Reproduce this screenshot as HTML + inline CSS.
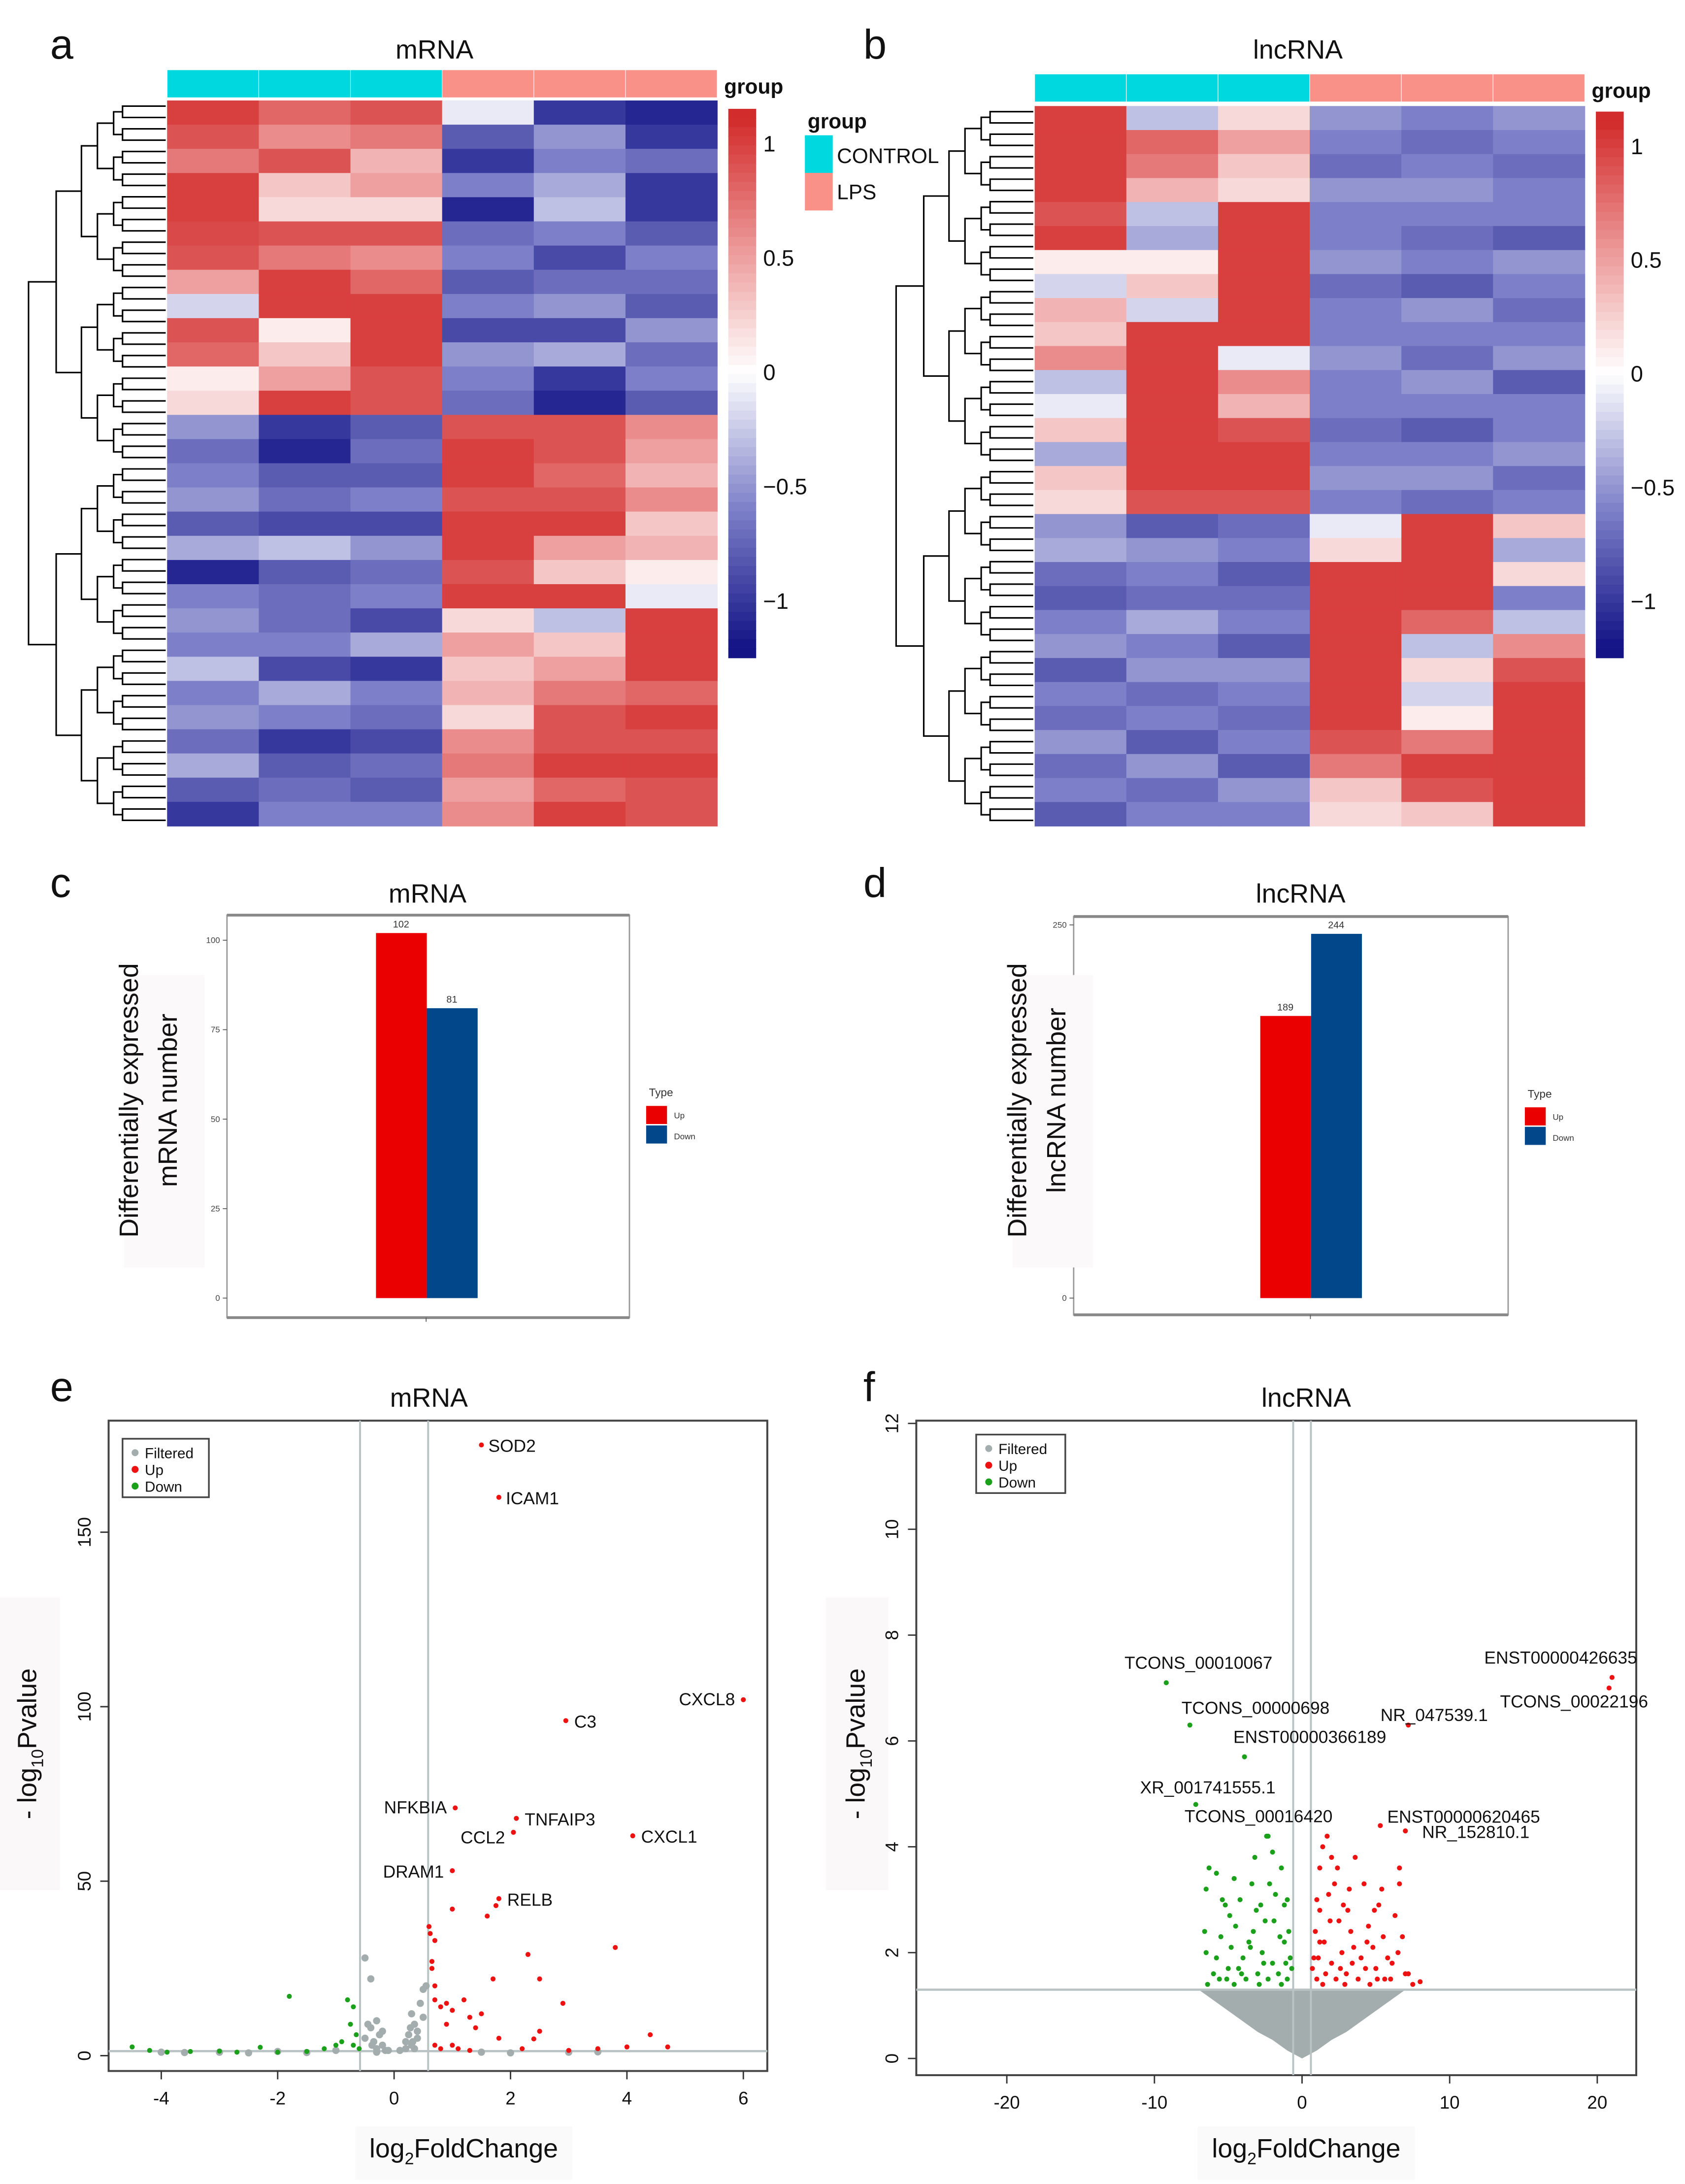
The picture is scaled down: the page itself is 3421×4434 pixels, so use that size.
<!DOCTYPE html>
<html><head><meta charset="utf-8"><style>
html,body{margin:0;padding:0;background:#fff;}
svg{display:block;font-family:"Liberation Sans",sans-serif;}
</style></head><body>
<svg id="fig" xmlns="http://www.w3.org/2000/svg" width="3421" height="4434" viewBox="0 0 1210 1568">
<rect x="0" y="0" width="1210" height="1568" fill="#fff"/>
<g id="root"></g>
</svg>
<script>
// ---------- DATA ----------
const groups = ["CONTROL","CONTROL","CONTROL","LPS","LPS","LPS"];
const mrnaC1 = [1,.9,.7,1,1,.95,.9,.5,-.2,.9,.8,.1,.2,-.5,-.7,-.6,-.5,-.8,-.4,-1.1,-.6,-.5,-.6,-.3,-.6,-.5,-.7,-.4,-.8,-1];
const mrnaC2 = [.8,.6,.9,.3,.2,.9,.7,1,1,.1,.3,.5,1,-1,-1.1,-.8,-.7,-.9,-.3,-.8,-.7,-.7,-.6,-.9,-.4,-.6,-1,-.8,-.7,-.6];
const mrnaC3 = [.9,.7,.4,.5,.2,.9,.6,.8,1,1,1,.9,.9,-.8,-.7,-.8,-.6,-.9,-.5,-.7,-.6,-.9,-.4,-1,-.6,-.7,-.9,-.7,-.8,-.6];
const mrnaC4 = [-.1,-.8,-1,-.6,-1.1,-.7,-.6,-.8,-.6,-.9,-.5,-.6,-.7,.9,1,1,.9,1,1,.9,1,.2,.5,.3,.4,.2,.6,.7,.5,.6];
const mrnaC5 = [-1,-.5,-.6,-.4,-.3,-.6,-.9,-.7,-.5,-.9,-.4,-1,-1.1,.9,.9,.8,.9,1,.5,.3,1,-.3,.3,.5,.7,.9,.9,1,.8,1];
const mrnaC6 = [-1.1,-1,-.7,-1,-1,-.8,-.6,-.7,-.8,-.5,-.7,-.6,-.8,.6,.5,.4,.6,.3,.4,.1,-.1,1,1,1,.8,1,.9,1,.9,.9];
const lncC1 = [1,1,1,1,.9,1,.1,-.2,.4,.3,.6,-.3,-.1,.3,-.4,.3,.2,-.5,-.4,-.7,-.8,-.6,-.5,-.8,-.6,-.7,-.5,-.7,-.6,-.8];
const lncC2 = [-.3,.8,.7,.4,-.3,-.4,.1,.3,-.2,1,1,1,1,1,1,1,.9,-.8,-.5,-.6,-.7,-.4,-.6,-.5,-.7,-.6,-.8,-.5,-.7,-.6];
const lncC3 = [.2,.5,.3,.2,1,1,1,1,1,1,-.1,.6,.4,.9,1,1,.9,-.7,-.6,-.8,-.7,-.6,-.8,-.5,-.6,-.7,-.6,-.8,-.5,-.6];
const lncC4 = [-.5,-.6,-.7,-.5,-.6,-.6,-.5,-.7,-.6,-.6,-.5,-.6,-.6,-.7,-.6,-.5,-.6,-.1,.2,1,1,1,1,1,1,1,.9,.7,.3,.2];
const lncC5 = [-.6,-.7,-.6,-.5,-.6,-.7,-.6,-.8,-.5,-.6,-.7,-.5,-.6,-.8,-.6,-.5,-.7,1,1,1,1,.8,-.3,.2,-.2,.1,.7,1,.9,.3];
const lncC6 = [-.5,-.6,-.7,-.6,-.6,-.8,-.5,-.6,-.7,-.6,-.5,-.8,-.6,-.6,-.5,-.7,-.6,.3,-.4,.2,-.6,-.3,.6,.9,1,1,1,1,1,1];
const cbTicks = [1,0.5,0,-0.5,-1];
const cbLabels = ["1","0.5","0","\u22120.5","\u22121"];

const barTypes = ["Up","Down"];
const mrnaCounts = [102,81];
const lncCounts = [189,244];
const mrnaBarTicks = [0,25,50,75,100];
const lncBarTicks = [0,50,100,150,200,250];

const eXTicks = [-4,-2,0,2,4,6];
const eYTicks = [0,50,100,150];
const eLabNames = ["SOD2","ICAM1","CXCL8","C3","NFKBIA","TNFAIP3","CCL2","CXCL1","DRAM1","RELB"];
const eLabX = [1.5,1.8,6.0,2.95,1.05,2.1,2.05,4.1,1.0,1.8];
const eLabY = [175,160,102,96,71,68,64,63,53,45];
const eRedX = [0.6,0.62,0.65,0.7,0.65,0.7,0.7,0.8,0.9,1,1.2,1.3,1.5,1,1.6,2.3,2.5,1.7,2.9,3.8,2.5,1.8,4.4,0.7,0.8,1,1.1,1.3,2.2,3,3.5,4,4.7,2.4,0.9,1.4,1.75];
const eRedY = [37,35,27,33,25,20,16,14,15,13,16,11,12,42,40,29,22,22,15,31,7,5,6,3,2,3,2,1.5,2,1.5,2,2.5,2.5,4.8,9,8,43];
const eGreenX = [-4.5,-4.2,-3.9,-3.5,-3,-2.7,-2.3,-2,-1.8,-1.5,-1.2,-1,-0.9,-0.8,-0.7,-0.75,-0.65,-0.7,-0.6];
const eGreenY = [2.5,1.5,1,1.2,1.3,1,2.4,1,17,1.2,2,3,4,16,14,9,6,3,2];
const eGreyX = [-0.3,-0.35,-0.25,-0.4,-0.2,-0.5,-0.45,-0.3,-0.15,0.3,0.25,0.35,0.2,0.4,0.5,0.45,0.5,0.55,-0.5,-0.4,-0.1,0.1,0.3,0.2,-3,-2.5,-2,-1.5,-1,1.5,2,3,3.5,-3.6,-4,0.4,0.35,-0.3,-0.2,0.28,0.32,-0.38];
const eGreyY = [2,4,6,8,3,5,9,10,1.5,3,6,9,4,7,11,15,19,20,28,22,1.5,1.5,12,2,1,0.8,1.2,0.9,1.5,1,0.8,1,1.1,0.9,1,5,2,1,7,8,4,3];

const fXTicks = [-20,-10,0,10,20];
const fYTicks = [0,2,4,6,8,10,12];
const fLabNames = ["TCONS_00010067","TCONS_00000698","ENST00000366189","XR_001741555.1","TCONS_00016420","ENST00000426635","TCONS_00022196","NR_047539.1","ENST00000620465","NR_152810.1"];
const fLabX = [-9.2,-7.6,-3.9,-7.2,-2.3,21,20.8,7.2,5.3,7.0];
const fLabY = [7.1,6.3,5.7,4.8,4.2,7.2,7.0,6.3,4.4,4.3];
const fUpX = [1,1.5,2,2.5,3,3.5,4,4.5,5,5.5,6,6.5,7,7.5,8,1.2,1.8,2.2,2.8,3.2,4.2,5.2,6.3,6.6,6.6,2,1.2,1.4,2.4,3.6,1.7,1.2,1.6,2.3,2.7,3.3,3.8,4.3,4.8,5.8,6.8,0.8,0.9,1,1.4,2.9,4.6,5.6,3.1,4.9,5.4,1.9,2.6,3.4,4.4,5.1,6.1,7.2,0.7,1.1];
const fUpY = [1.5,2.2,1.8,2.6,1.6,2.1,1.9,2.5,1.7,2.3,1.5,2,1.6,1.4,1.45,2.8,3.1,3.3,2.9,3.2,3.3,2.9,2.7,3.3,3.6,3.8,3.6,4,3.6,3.8,4.2,2.2,1.6,1.5,2,2.4,1.5,1.7,2.1,1.9,2.3,1.9,2.4,3,1.4,1.4,1.4,1.5,2.8,2.8,3.2,2.6,1.7,1.8,2.2,1.5,1.8,1.6,1.7,1.9];
const fDownX = [-1,-1.5,-2,-2.5,-3,-3.5,-4,-4.5,-5,-5.5,-6,-6.5,-1.2,-1.8,-2.2,-2.8,-3.4,-4.2,-5.2,-5.8,-6.3,-6.5,-2.4,-3.2,-1.4,-2,-4.6,-1.2,-1.6,-2.3,-2.7,-3.3,-3.8,-4.3,-4.8,-5.8,-6.6,-0.8,-0.9,-1,-1.4,-2.9,-4.6,-5.6,-6.4,-3.1,-4.9,-5.4,-1.9,-2.6,-3.6,-4.1,-5.1,-0.7,-1.1];
const fDownY = [1.5,2.3,1.8,2.6,1.6,2.1,1.9,2.5,1.7,2.3,1.6,2,2.9,3.1,3.3,2.9,3.3,3.0,2.9,3.5,3.6,3.2,4.2,3.8,3.6,3.9,3.4,2.2,1.6,1.5,2,2.4,1.5,1.7,2.1,1.9,2.4,1.9,2.4,3,1.4,1.4,1.4,1.5,1.4,2.8,2.7,3.0,2.6,1.8,2.2,1.6,1.5,1.7,1.8];
const fGreyX = [-7,-6,-5,-4,-3,-2,-1,0,1,2,3,4,5,6,7];
const fGreyY = [1.3,1.1,0.9,0.7,0.5,0.35,0.15,0,0.15,0.35,0.5,0.7,0.9,1.1,1.3];

// ---------- HELPERS ----------
const NS="http://www.w3.org/2000/svg";
const root=document.getElementById('root');
function mk(tag,attrs,parent,text){const e=document.createElementNS(NS,tag);for(const k in attrs)e.setAttribute(k,attrs[k]);if(text!==undefined)e.textContent=text;(parent||root).appendChild(e);return e;}
function grp(name){const g=mk('g',{});


return g;}
function lerp(a,b,t){return a+(b-a)*t;}
function mix(c1,c2,t){return 'rgb('+[0,1,2].map(i=>Math.round(lerp(c1[i],c2[i],t))).join(',')+')';}
function heatColor(v){
  if(v>=0){const t=Math.min(v/1.1,1);
    if(t<0.5)return mix([255,255,255],[236,150,150],t/0.5);
    return mix([236,150,150],[211,44,44],(t-0.5)/0.5);}
  const t=Math.min(-v/1.2,1);
  if(t<0.5)return mix([255,255,255],[125,128,200],t/0.5);
  return mix([125,128,200],[20,20,135],(t-0.5)/0.5);
}
function label(g,x,y,txt,size,opts){const o=Object.assign({x:x,y:y,'font-size':size,fill:'#111'},opts||{});return mk('text',o,g,txt);}

// ---------- HEATMAPS ----------
function dendro(g,xL,xR,yT,yB,n){
  const rowH=(yB-yT)/n;
  function build(lo,hi,depth){
    if(hi-lo===1)return {y:yT+(lo+0.5)*rowH,x:xR};
    const mid=Math.floor((lo+hi)/2);
    const a=build(lo,mid,depth+1),b=build(mid,hi,depth+1);
    const x=xR-(xR-xL)*Math.pow(0.78,depth)-((hi-lo)%3)*1.5;
    mk('path',{d:`M${a.x},${a.y}H${x}V${b.y}H${b.x}`,fill:'none',stroke:'#000','stroke-width':1.1},g);
    return {x:x,y:(a.y+b.y)/2};
  }
  build(0,n,0);
}
function heatmap(name,cols,x0,x1,yT,yB,barY,barH,cbX,cbT,cbB,title,titleX,letter,letterX,dendL){
  const g=grp(name);
  const n=cols[0].length, cw=(x1-x0)/cols.length, rh=(yB-yT)/n;
  cols.forEach((col,ci)=>{col.forEach((v,ri)=>{
    const r=mk('rect',{x:x0+ci*cw,y:yT+ri*rh,width:cw+0.3,height:rh+0.3,fill:heatColor(v)},g);
    
    
  });});
  groups.forEach((gr,ci)=>{
    const r=mk('rect',{x:x0+ci*cw,y:barY,width:cw,height:barH,fill:gr==='CONTROL'?'#00d8df':'#fa9189',stroke:'#fff','stroke-width':0.4},g);
    
    
  });
  label(g,x1+5,barY+barH-3,'group',15,{'font-weight':'bold'});
  dendro(g,dendL,x0-1,yT,yB,64);
  const steps=60;const vmax=1.15,vmin=-1.25;
  for(let i=0;i<steps;i++){const v=vmax-(vmax-vmin)*(i+0.5)/steps;
    mk('rect',{x:cbX,y:cbT+(cbB-cbT)*i/steps,width:20,height:(cbB-cbT)/steps+0.5,fill:heatColor(v)},g);}
  cbTicks.forEach((t,i)=>{const y=cbT+(vmax-t)/(vmax-vmin)*(cbB-cbT);
    label(g,cbX+25,y+6,cbLabels[i],16);});
  const tt=label(g,titleX,42,title,19,{'text-anchor':'middle'});
  
  
  const lt=label(g,letterX,42,letter,30);
  
  
}
heatmap('heatmap-mrna',[mrnaC1,mrnaC2,mrnaC3,mrnaC4,mrnaC5,mrnaC6],120,515,72,593,50,20,523,78,472,'mRNA',312,'a',36,22);
heatmap('heatmap-lncrna',[lncC1,lncC2,lncC3,lncC4,lncC5,lncC6],743,1138,76,593,53,20,1146,80,472,'lncRNA',932,'b',620,645);
(function(){const g=grp('group-legend');
  label(g,580,92,'group',15,{'font-weight':'bold'});
  mk('rect',{x:578,y:97,width:20,height:27,fill:'#00d8df'},g);
  mk('rect',{x:578,y:124,width:20,height:27,fill:'#fa9189'},g);
  label(g,601,117,'CONTROL',15);
  label(g,601,143,'LPS',15);
})();

// ---------- BAR CHARTS ----------
function barChart(name,counts,ticks,maxV,box,y0,yMaxPix,xBar,title,titleX,letter,letterX,ylab2,ylabX){
  const g=grp(name);
  mk('rect',{x:box[0],y:box[1],width:box[2]-box[0],height:box[3]-box[1],fill:'#fff',stroke:'#999','stroke-width':1},g);
  mk('line',{x1:box[0],y1:box[1],x2:box[2],y2:box[1],stroke:'#888','stroke-width':2},g);
  mk('line',{x1:box[0],y1:box[3],x2:box[2],y2:box[3],stroke:'#888','stroke-width':2},g);
  const ys=v=>y0-(v/maxV)*(y0-yMaxPix);
  ticks.forEach(t=>{mk('line',{x1:box[0]-3,x2:box[0],y1:ys(t),y2:ys(t),stroke:'#555','stroke-width':0.6},g);
    label(g,box[0]-5,ys(t)+2,String(t),6,{'text-anchor':'end',fill:'#444'});});
  mk('line',{x1:xBar+36,x2:xBar+36,y1:box[3],y2:box[3]+3,stroke:'#555','stroke-width':0.6},g);
  const cols=['#ea0000','#024789'];
  counts.forEach((c,i)=>{
    const r=mk('rect',{x:xBar+i*36.5,y:ys(c),width:36.5,height:y0-ys(c),fill:cols[i]},g);
    
    
    label(g,xBar+i*36.5+18,ys(c)-4,String(c),7,{'text-anchor':'middle',fill:'#333'});
  });
  const lx=box[2]+12;
  label(g,lx+2,box[1]+130,'Type',8,{fill:'#333'});
  mk('rect',{x:lx,y:box[1]+137,width:15,height:13,fill:cols[0]},g);
  mk('rect',{x:lx,y:box[1]+151,width:15,height:13,fill:cols[1]},g);
  label(g,lx+20,box[1]+146,'Up',6,{fill:'#333'});
  label(g,lx+20,box[1]+161,'Down',6,{fill:'#333'});
  label(g,titleX,648,title,19,{'text-anchor':'middle'});
  label(g,letterX,644,letter,30);
  mk('rect',{x:ylabX-10,y:700,width:58,height:210,fill:'#fcf9fa'},g);
  const cy=790;
  label(g,0,0,'Differentially expressed',19,{transform:`translate(${ylabX},${cy}) rotate(-90)`,'text-anchor':'middle'});
  label(g,0,0,ylab2,19,{transform:`translate(${ylabX+28},${cy}) rotate(-90)`,'text-anchor':'middle'});
}
barChart('bar-chart-mrna',mrnaCounts,mrnaBarTicks,100,[163,657,452,946],932,675,270,'mRNA',307,'c',36,'mRNA number',99);
barChart('bar-chart-lncrna',lncCounts,lncBarTicks,250,[771,658,1083,944],932,664,905,'lncRNA',934,'d',620,'lncRNA number',737);

// ---------- VOLCANO ----------
function volcano(name,cfg){
  const g=grp(name);
  mk('rect',{x:cfg.ylabX-22,y:1147,width:45,height:210,fill:'#fbf8f9'},g);
  const xs=v=>cfg.px0+(v-cfg.vx0)*cfg.kx, ys=v=>cfg.py0-v*cfg.ky;
  const b=cfg.box;
  mk('rect',{x:b[0],y:b[1],width:b[2]-b[0],height:b[3]-b[1],fill:'#fff',stroke:'#444','stroke-width':1.4},g);
  if(cfg.greyPoly){let d='';cfg.greyPoly[0].forEach((x,i)=>{d+=(i?'L':'M')+xs(x)+','+ys(cfg.greyPoly[1][i]);});
    mk('path',{d:d+'Z',fill:'#a4adad'},g);}
  cfg.vlines.forEach(v=>mk('line',{x1:xs(v),x2:xs(v),y1:b[1],y2:b[3],stroke:'#b9c3c3','stroke-width':1.4},g));
  mk('line',{x1:b[0],x2:b[2],y1:ys(1.3),y2:ys(1.3),stroke:'#b9c3c3','stroke-width':1.6},g);
  function pts(X,Y,col,r,nm){X.forEach((x,i)=>{const c=mk('circle',{cx:xs(x),cy:ys(Y[i]),r:r,fill:col},g);
    
    });}
  if(cfg.grey)pts(cfg.grey[0],cfg.grey[1],'#a4adad',2.6,'point-filtered');
  pts(cfg.green[0],cfg.green[1],'#1aa01a',1.8,'point-down');
  pts(cfg.red[0],cfg.red[1],'#ee1111',1.8,'point-up');
  cfg.labN.forEach((n,i)=>{const x=cfg.labX[i],y=cfg.labY[i];
    mk('circle',{cx:xs(x),cy:ys(y),r:1.8,fill:x>0?'#ee1111':'#1aa01a'},g);
    const o=cfg.labOff[i];
    label(g,xs(x)+o[0],ys(y)+o[1],n,12.5,{'text-anchor':o[2]});});
  cfg.xt.forEach(t=>{mk('line',{x1:xs(t),x2:xs(t),y1:b[3],y2:b[3]+6,stroke:'#333'},g);
    label(g,xs(t),b[3]+24,String(t),13,{'text-anchor':'middle'});});
  cfg.yt.forEach(t=>{mk('line',{x1:b[0]-6,x2:b[0],y1:ys(t),y2:ys(t),stroke:'#333'},g);
    label(g,0,0,String(t),13,{transform:`translate(${b[0]-13},${ys(t)}) rotate(-90)`,'text-anchor':'middle'});});
  const L=cfg.leg;
  mk('rect',{x:L[0],y:L[1],width:L[2],height:42,fill:'#fff',stroke:'#444','stroke-width':1.2},g);
  [['Filtered','#a4adad'],['Up','#ee1111'],['Down','#1aa01a']].forEach((e,i)=>{
    mk('circle',{cx:L[0]+9,cy:L[1]+10+i*12,r:2.5,fill:e[1]},g);
    label(g,L[0]+16,L[1]+14+i*12,e[0],10.5);});
  label(g,cfg.titleX,1010,cfg.title,19,{'text-anchor':'middle'});
  label(g,cfg.letterX,1006,cfg.letter,30);
  mk('rect',{x:cfg.xlabX-78,y:1527,width:156,height:38,fill:'#fafafa'},g);
  const xl=label(g,cfg.xlabX,1549,'log',19,{'text-anchor':'middle'});
  mk('tspan',{'font-size':12,dy:5},xl,'2');mk('tspan',{dy:-5},xl,'FoldChange');
  const yl=label(g,0,0,'- log',19,{transform:`translate(${cfg.ylabX+6},1252) rotate(-90)`,'text-anchor':'middle'});
  mk('tspan',{'font-size':12,dy:5},yl,'10');mk('tspan',{dy:-5},yl,'Pvalue');
}
volcano('volcano-mrna',{box:[78,1020,551,1487],px0:283,vx0:0,kx:41.8,py0:1476,ky:2.506,
  vlines:[-0.585,0.585],grey:[eGreyX,eGreyY],green:[eGreenX,eGreenY],red:[eRedX,eRedY],
  labN:eLabNames,labX:eLabX,labY:eLabY,
  labOff:[[5,5,'start'],[5,5,'start'],[-6,4,'end'],[6,5,'start'],[-6,4,'end'],[6,5,'start'],[-6,8,'end'],[6,5,'start'],[-6,5,'end'],[6,5,'start']],
  xt:eXTicks,yt:eYTicks,leg:[88,1033,62],title:'mRNA',titleX:308,letter:'e',letterX:36,xlabX:333,ylabX:20});
volcano('volcano-lncrna',{box:[658,1020,1175,1490],px0:935,vx0:0,kx:10.6,py0:1478,ky:38.0,
  vlines:[-0.6,0.6],greyPoly:[fGreyX,fGreyY],green:[fDownX,fDownY],red:[fUpX,fUpY],
  labN:fLabNames,labX:fLabX,labY:fLabY,
  labOff:[[-30,-10,'start'],[-6,-8,'start'],[-8,-10,'start'],[-40,-8,'start'],[-60,-10,'start'],[18,-10,'end'],[28,14,'end'],[-20,-3,'start'],[5,-2,'start'],[12,5,'start']],
  xt:fXTicks,yt:fYTicks,leg:[701,1030,64],title:'lncRNA',titleX:938,letter:'f',letterX:620,xlabX:938,ylabX:615});
</script>
</body></html>
